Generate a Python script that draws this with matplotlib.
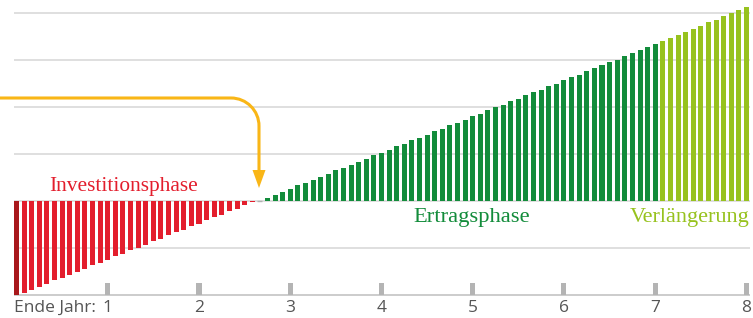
import numpy as np
import matplotlib.pyplot as plt
from matplotlib.path import Path
from matplotlib.patches import PathPatch, Polygon

# Monatswerte (Einheit = Abstand der Gitterlinien)
initial_investment = [-2.00]
invest_values = [-1.95, -1.89, -1.82, -1.76, -1.69, -1.63, -1.57, -1.50, -1.44, -1.37,
                 -1.31, -1.25, -1.18, -1.12, -1.05, -0.99, -0.93, -0.86, -0.80, -0.73,
                 -0.67, -0.61, -0.54, -0.48, -0.41, -0.35, -0.29, -0.22, -0.16, -0.09,
                 -0.03]
breakeven_value = [0.0]
return_values = [0.07, 0.13, 0.20, 0.26, 0.33, 0.39, 0.45, 0.52, 0.58, 0.65,
                 0.71, 0.77, 0.84, 0.90, 0.97, 1.03, 1.09, 1.16, 1.22, 1.29,
                 1.35, 1.41, 1.48, 1.54, 1.61, 1.67, 1.73, 1.80, 1.86, 1.93,
                 1.99, 2.05, 2.12, 2.18, 2.25, 2.31, 2.37, 2.44, 2.50, 2.57,
                 2.63, 2.69, 2.76, 2.82, 2.89, 2.95, 3.01, 3.08, 3.14, 3.21,
                 3.27, 3.33]
extension_values = [3.40, 3.47, 3.53, 3.60, 3.66, 3.73, 3.80, 3.86, 3.93, 3.99, 4.06, 4.13]

year_labels = ['1', '2', '3', '4', '5', '6', '7', '8']
months_per_year = 12

phase_colors = ['#a8181c', '#e31e2d', '#b0b0b0', '#138c3b', '#97c21e']
phases = [initial_investment, invest_values, breakeven_value, return_values, extension_values]

fig = plt.figure(figsize=(7.53, 3.18), dpi=100)
ax = fig.add_axes([0, 0, 1, 1])

# Pixelgeometrie: Balkenabstand 7.604 px, Nulllinie bei y=201, 47 px je Einheit
px_bar, x0_px, y0_px, px_unit = 7.604, 16.5, 201, 47.0
W, H = 753, 318
ax.set_xlim(-x0_px / px_bar, (W - x0_px) / px_bar)
ax.set_ylim((y0_px - H) / px_unit, y0_px / px_unit)
ax.axis('off')

x_left = (14 - x0_px) / px_bar
x_right = (750 - x0_px) / px_bar

# Gitterlinien
ax.hlines([-1, 0, 1, 2, 3, 4], x_left, x_right, color='#dcdcdc', lw=1.3, zorder=1)
ax.hlines(-2, x_left, x_right, color='#c8c8c8', lw=1.3, zorder=1)

# Balken
start = 0
for vals, col in zip(phases, phase_colors):
    xs = np.arange(start, start + len(vals))
    if col == '#b0b0b0':
        ax.bar(xs, vals, width=0.66, color=col, edgecolor=col, lw=1.0, zorder=2)
    else:
        ax.bar(xs, vals, width=0.66, color=col, lw=0, zorder=2)
    start += len(vals)

# Jahresmarken
tick_x = [months_per_year * (i + 1) for i in range(len(year_labels))]
ax.bar(tick_x, 12 / px_unit, bottom=-2, width=0.66, color='#b4b4b4', lw=0, zorder=2)
label_y = (y0_px - 308) / px_unit
for x, lab in zip(tick_x, year_labels):
    ax.text(x, label_y, lab, ha='center', va='center', fontsize=12.5,
            color='#555555', family='Open Sans')
ax.text(x_left, label_y, 'Ende Jahr:', ha='left', va='center', fontsize=12.5,
        color='#555555', family='Open Sans')

# Phasenbeschriftungen
def px(xp, yp):
    return (xp - x0_px) / px_bar, (y0_px - yp) / px_unit

tx, ty = px(124, 191)
ax.text(tx, ty, 'Investitionsphase', ha='center', va='baseline', fontsize=15.4,
        color='#e31e2d', family='Liberation Serif')
tx, ty = px(472, 222)
ax.text(tx, ty, 'Ertragsphase', ha='center', va='baseline', fontsize=16.2,
        color='#138c3b', family='Liberation Serif')
tx, ty = px(750, 222)
ax.text(tx, ty, 'Verlängerung', ha='right', va='baseline', fontsize=16,
        color='#97c21e', family='Liberation Serif')

# Pfeil
k = 0.5523
r = 28
verts = [px(0, 98), px(259 - r, 98),
         px(259 - r + k * r, 98), px(259, 98 + r - k * r), px(259, 98 + r),
         px(259, 173)]
codes = [Path.MOVETO, Path.LINETO, Path.CURVE4, Path.CURVE4, Path.CURVE4, Path.LINETO]
ax.add_patch(PathPatch(Path(verts, codes), fill=False, edgecolor='#f9b617',
                       lw=2.2, capstyle='butt', zorder=3))
ax.add_patch(Polygon([px(252.5, 170), px(265.5, 170), px(259, 188)], closed=True,
                     color='#f9b617', lw=0, zorder=3))

plt.savefig('out.png', dpi=100)
